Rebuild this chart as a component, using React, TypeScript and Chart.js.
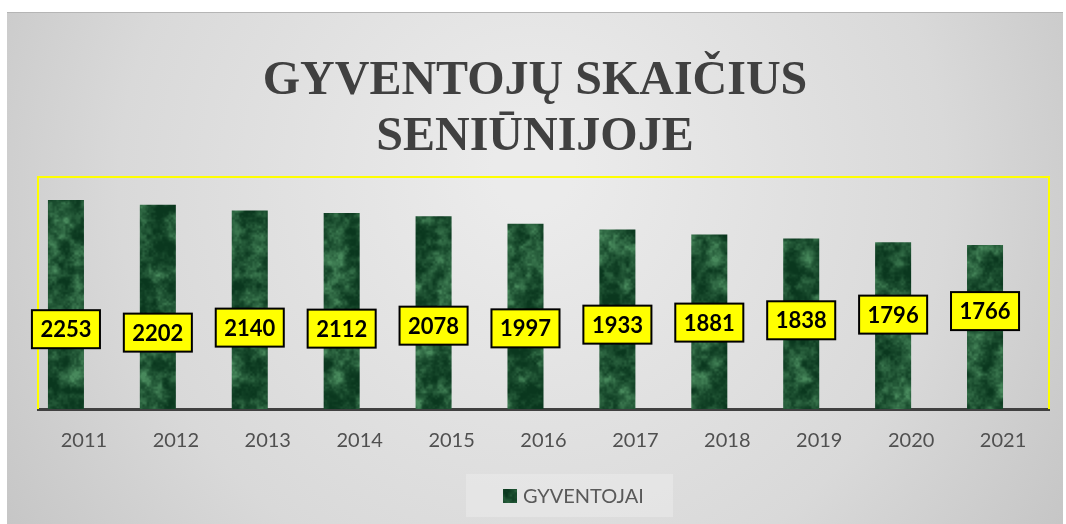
import React, { useEffect, useRef } from "react";
import { Chart, registerables } from "chart.js";

Chart.register(...registerables);

const years: string[] = ["2011", "2012", "2013", "2014", "2015", "2016", "2017", "2018", "2019", "2020", "2021"];
const residents: number[] = [2253, 2202, 2140, 2112, 2078, 1997, 1933, 1881, 1838, 1796, 1766];
// vertical level (in value units) where each yellow data label sits
const labelLevels: number[] = [860, 823, 877, 866, 898, 869, 909, 931, 956, 1017, 1055];
const seriesName = "GYVENTOJAI";
const titleLines: string[] = ["GYVENTOJŲ SKAIČIUS", "SENIŪNIJOJE"];
const yMin = 0;
const yMax = 2500;

function makeMarble(ctx: CanvasRenderingContext2D, w: number, h: number): CanvasPattern | string {
  const c = document.createElement("canvas");
  c.width = w; c.height = h;
  const g = c.getContext("2d");
  if (!g) return "#1f5a35";
  const img = g.createImageData(w, h);
  const hash = (x: number, y: number) => {
    const s = Math.sin(x * 127.1 + y * 311.7) * 43758.5453;
    return s - Math.floor(s);
  };
  const noise = (x: number, y: number, cell: number, k: number) => {
    const gx = x / cell, gy = y / cell;
    const x0 = Math.floor(gx), y0 = Math.floor(gy);
    const fx = gx - x0, fy = gy - y0;
    const sx = fx * fx * (3 - 2 * fx), sy = fy * fy * (3 - 2 * fy);
    const a = hash(x0 + k, y0), b = hash(x0 + 1 + k, y0);
    const cc = hash(x0 + k, y0 + 1), d = hash(x0 + 1 + k, y0 + 1);
    return a + (b - a) * sx + (cc - a) * sy + (a - b - cc + d) * sx * sy;
  };
  for (let y = 0; y < h; y++) {
    for (let x = 0; x < w; x++) {
      const n = 0.5 * noise(x, y, 13, 17) + 0.32 * noise(x, y, 5.5, 331) + 0.18 * noise(x, y, 2.2, 977);
      let t = (n - 0.22) / 0.62;
      t = Math.max(0, Math.min(1, t));
      t = Math.pow(t, 1.5);
      const i = (y * w + x) * 4;
      img.data[i] = 10 + t * 62;
      img.data[i + 1] = 55 + t * 82;
      img.data[i + 2] = 30 + t * 62;
      img.data[i + 3] = 255;
    }
  }
  g.putImageData(img, 0, 0);
  return ctx.createPattern(c, "no-repeat") || "#1f5a35";
}

export default function App() {
  const ref = useRef<HTMLCanvasElement | null>(null);

  useEffect(() => {
    const canvas = ref.current;
    if (!canvas) return;
    const ctx0 = canvas.getContext("2d");
    if (!ctx0) return;
    const marble = makeMarble(ctx0, 1066, 524);

    const backgroundPlugin = {
      id: "bgPanel",
      beforeDraw(chart: any) {
        const ctx = chart.ctx;
        ctx.save();
        const grad = ctx.createRadialGradient(533, 170, 40, 533, 200, 720);
        grad.addColorStop(0, "#ebebeb");
        grad.addColorStop(0.55, "#d9d9d9");
        grad.addColorStop(1, "#bdbdbd");
        ctx.fillStyle = grad;
        ctx.fillRect(7, 12, 1056, 512);
        ctx.fillStyle = "#b5b5b5";
        ctx.fillRect(7, 12, 1056, 1);
        ctx.restore();
      },
    };

    const titlePlugin = {
      id: "titleDraw",
      beforeDatasetsDraw(chart: any) {
        const ctx = chart.ctx;
        const a = chart.chartArea;
        ctx.save();
        ctx.font = 'bold 48px "Liberation Serif", "Times New Roman", serif';
        ctx.fillStyle = "#404040";
        ctx.textAlign = "center";
        ctx.textBaseline = "alphabetic";
        ctx.fillText(titleLines[0], 535, 94);
        ctx.fillText(titleLines[1], 535, 150);
        // yellow plot frame (left, top, right sides; bottom is the axis)
        ctx.strokeStyle = "#ffff00";
        ctx.lineWidth = 2;
        ctx.beginPath();
        ctx.moveTo(a.left, a.bottom);
        ctx.lineTo(a.left, a.top);
        ctx.lineTo(a.right, a.top);
        ctx.lineTo(a.right, a.bottom);
        ctx.stroke();
        ctx.restore();
      },
    };

    const labelsPlugin = {
      id: "labelsLegend",
      afterDraw(chart: any) {
        const ctx = chart.ctx;
        const meta = chart.getDatasetMeta(0);
        const ys = chart.scales.y;
        ctx.save();
        ctx.font = 'bold 22px Lato, "Open Sans", sans-serif';
        ctx.textAlign = "center";
        ctx.textBaseline = "middle";
        meta.data.forEach((bar: any, i: number) => {
          const x = bar.x;
          const y = ys.getPixelForValue(labelLevels[i]);
          const txt = String(residents[i]);
          const tw = ctx.measureText(txt).width;
          const bw = tw + 17, bh = 38;
          ctx.fillStyle = "#ffff00";
          ctx.fillRect(x - bw / 2, y - bh / 2, bw, bh);
          ctx.strokeStyle = "#000000";
          ctx.lineWidth = 2;
          ctx.strokeRect(x - bw / 2, y - bh / 2, bw, bh);
          ctx.fillStyle = "#000000";
          ctx.fillText(txt, x, y + 1);
        });
        // legend
        ctx.fillStyle = "rgba(235,235,235,0.55)";
        ctx.fillRect(466, 474, 207, 43);
        ctx.fillStyle = marble as any;
        ctx.fillRect(503, 489, 14, 14);
        ctx.font = '20px Lato, "Open Sans", sans-serif';
        ctx.fillStyle = "#595959";
        ctx.textAlign = "left";
        ctx.textBaseline = "alphabetic";
        ctx.fillText(seriesName, 523, 503);
        ctx.restore();
      },
    };

    const chart = new Chart(canvas, {
      type: "bar",
      data: {
        labels: years,
        datasets: [
          {
            label: seriesName,
            data: residents,
            backgroundColor: marble as any,
            borderWidth: 0,
            barPercentage: 1,
            categoryPercentage: 0.784,
          },
          {
            label: "",
            data: years.map(() => null),
            backgroundColor: "rgba(0,0,0,0)",
            borderWidth: 0,
            barPercentage: 1,
            categoryPercentage: 0.784,
          },
        ],
      },
      options: {
        responsive: false,
        animation: false,
        devicePixelRatio: 1,
        layout: { padding: { left: 38, right: 17, top: 177, bottom: 0 } },
        plugins: {
          legend: { display: false },
          title: { display: false },
          tooltip: { enabled: false },
        },
        scales: {
          x: {
            grid: { display: false, drawTicks: false },
            border: { display: true, color: "#404040", width: 3 },
            ticks: {
              color: "#505050",
              font: { family: 'Lato, "Open Sans", sans-serif', size: 20 },
              padding: 20,
              maxRotation: 0,
            },
            afterFit: (s: any) => {
              s.height = 115;
            },
          },
          y: { display: false, min: yMin, max: yMax },
        },
      },
      plugins: [backgroundPlugin, titlePlugin, labelsPlugin],
    });
    return () => chart.destroy();
  }, []);

  return (
    <canvas
      ref={ref}
      width={1066}
      height={524}
      style={{ position: "fixed", left: 0, top: 0, width: 1066, height: 524 }}
    />
  );
}
